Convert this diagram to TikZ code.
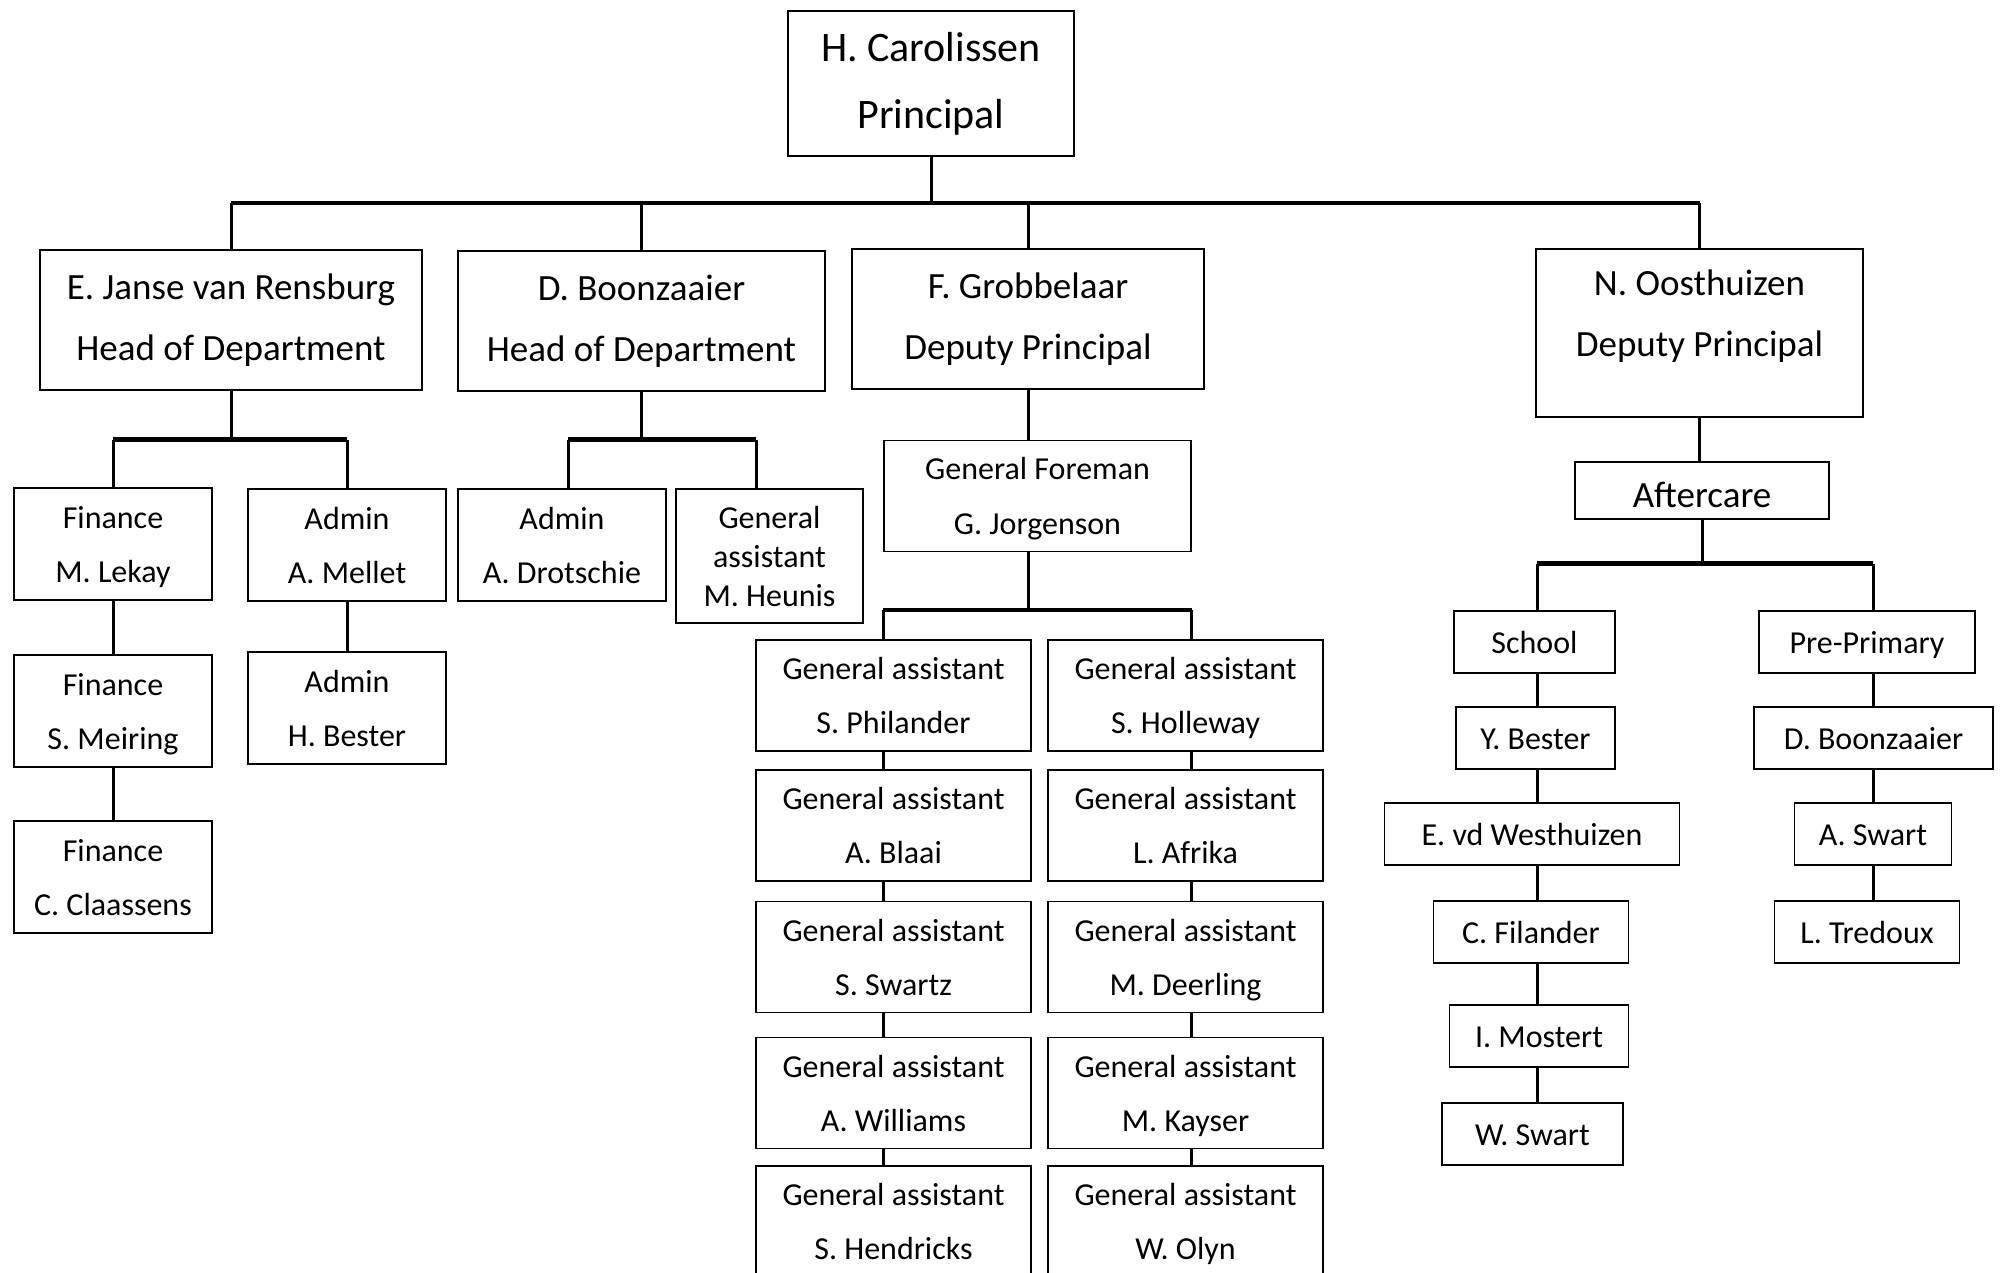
\documentclass[tikz,border=0pt]{standalone}
\usepackage{fontspec}
\setmainfont{Carlito}
\tikzset{box/.style = {draw, line width = 1.6pt, inner sep = 0, align = center}}
\tikzset{link/.style = {line width = 3pt}}
\tikzset{rail/.style = {line width = 4.5pt}}
\tikzset{toptext/.style = {font = \fontsize{42}{67}\selectfont}}
\tikzset{midtext/.style = {font = \fontsize{37}{61}\selectfont}}
\tikzset{lowtext/.style = {font = \fontsize{32}{54}\selectfont, text depth = 0pt}}
\tikzset{cell/.style = {box, lowtext, minimum width = 198pt, minimum height = 112pt}}
\tikzset{gabox/.style = {box, lowtext, minimum width = 275pt, minimum height = 111pt}}
\tikzset{tag/.style = {box, lowtext, text height = 23pt, minimum height = 62pt}}

\begin{document}
\begin{tikzpicture}[x = 1pt, y = -1pt]
  \useasboundingbox (0, 0) rectangle (2002, 1273);

  % principal and the four below
  \node [box, toptext, minimum width = 286pt, minimum height = 145pt] (principal) at (931, 83.5) {H. Carolissen\\Principal};
  \node [box, midtext, minimum width = 382pt, minimum height = 140pt] (rensburg) at (231, 320) {E. Janse van Rensburg\\Head of Department};
  \node [box, midtext, minimum width = 367pt, minimum height = 140pt] (boonzaaier) at (641.5, 321) {D. Boonzaaier\\Head of Department};
  \node [box, midtext, minimum width = 352pt, minimum height = 140pt] (grobbelaar) at (1028, 319) {F. Grobbelaar\\Deputy Principal};
  \node [box, midtext, minimum width = 327pt, minimum height = 168pt, text depth = 40pt] (oosthuizen) at (1699.5, 333) {N. Oosthuizen\\Deputy Principal};

  \coordinate (bus0) at (0, 203);
  \draw [link] (principal.south) -- (principal.south |- bus0);
  \draw [rail] (rensburg.north |- bus0) -- (oosthuizen.north |- bus0);
  \foreach \n in {rensburg, boonzaaier, grobbelaar, oosthuizen} {
    \draw [link] (\n.north |- bus0) -- (\n.north);
  }

  % finance and admin
  \node [cell] (fin1) at (113, 544) {Finance\\M. Lekay};
  \node [cell] (fin2) at (113, 711) {Finance\\S. Meiring};
  \node [cell] (fin3) at (113, 877) {Finance\\C. Claassens};
  \node [cell] (adm1) at (347, 545) {Admin\\A. Mellet};
  \node [cell] (adm2) at (347, 708) {Admin\\H. Bester};
  \node [cell, minimum width = 208pt] (drotschie) at (562, 545) {Admin\\A. Drotschie};
  \node [box, lowtext, font = \fontsize{32}{39}\selectfont, minimum width = 187pt, minimum height = 134pt] (heunis) at (769.5, 556) {General\\assistant\\M. Heunis};

  \coordinate (bus1) at (0, 439.5);
  \draw [link] (rensburg.south) -- (rensburg.south |- bus1);
  \draw [rail] (fin1.north |- bus1) -- (adm1.north |- bus1);
  \draw [link] (fin1.north |- bus1) -- (fin1.north);
  \draw [link] (adm1.north |- bus1) -- (adm1.north);
  \draw [link] (fin1) -- (fin2);
  \draw [link] (fin2) -- (fin3);
  \draw [link] (adm1) -- (adm2);

  \coordinate (dbL) at (568, 439.5);
  \coordinate (dbR) at (756, 439.5);
  \draw [link] (boonzaaier.south) -- (boonzaaier.south |- bus1);
  \draw [rail] (dbL) -- (dbR);
  \draw [link] (dbL) -- (dbL |- drotschie.north);
  \draw [link] (dbR) -- (dbR |- heunis.north);

  % foreman and general assistants
  \node [box, lowtext, font = \fontsize{32}{55}\selectfont, minimum width = 307pt, minimum height = 111pt] (foreman) at (1037.5, 496) {General Foreman\\G. Jorgenson};
  \draw [link] (grobbelaar.south) -- (grobbelaar.south |- foreman.north);

  \foreach \y/\a/\b [count = \i] in {695.5/S. Philander/S. Holleway, 825.5/A. Blaai/L. Afrika,
      957/S. Swartz/M. Deerling, 1093/A. Williams/M. Kayser, 1221.5/S. Hendricks/W. Olyn} {
    \node [gabox] (ga\i) at (893.5, \y) {General assistant\\\a};
    \node [gabox] (gb\i) at (1185.5, \y) {General assistant\\\b};
  }

  \coordinate (bus2) at (0, 610);
  \draw [link] (foreman.south -| grobbelaar.south) -- (bus2 -| grobbelaar.south);
  \draw [rail] (foreman.west |- bus2) -- (foreman.east |- bus2);
  \draw [link] (foreman.west |- bus2) -- (ga1.north -| foreman.west);
  \draw [link] (foreman.east |- bus2) -- (gb1.north -| foreman.east);
  \foreach \i/\j in {1/2, 2/3, 3/4, 4/5} {
    \draw [link] (ga\i.south -| foreman.west) -- (ga\j.north -| foreman.west);
    \draw [link] (gb\i.south -| foreman.east) -- (gb\j.north -| foreman.east);
  }

  % aftercare
  \node [box, midtext, text height = 33pt, text depth = 0pt, minimum width = 254pt, minimum height = 57pt] (aftercare) at (1702, 490.5) {Aftercare};
  \draw [link] (oosthuizen.south) -- (oosthuizen.south |- aftercare.north);

  \node [tag, minimum width = 161pt] (school) at (1534.5, 642) {School};
  \node [tag, minimum width = 159pt] (ybester) at (1535.5, 738) {Y. Bester};
  \node [tag, minimum width = 295pt] (westhuizen) at (1532, 834) {E. vd Westhuizen};
  \node [tag, minimum width = 195pt] (filander) at (1531, 932) {C. Filander};
  \node [tag, minimum width = 179pt] (mostert) at (1539, 1036) {I. Mostert};
  \node [tag, minimum width = 181pt] (wswart) at (1532.5, 1134) {W. Swart};

  \node [tag, minimum width = 216pt] (preprimary) at (1867, 642) {Pre-Primary};
  \node [tag, minimum width = 239pt] (dboonzaaier) at (1873.5, 738) {D. Boonzaaier};
  \node [tag, minimum width = 157pt] (aswart) at (1873, 834) {A. Swart};
  \node [tag, minimum width = 185pt] (tredoux) at (1867, 932) {L. Tredoux};

  \coordinate (colS) at (1537, 563.5);
  \coordinate (colP) at (1873, 563.5);
  \draw [link] (aftercare.south) -- (aftercare.south |- colS);
  \draw [rail] (colS) -- (colP);
  \draw [link] (colS) -- (colS |- school.north);
  \draw [link] (colP) -- (colP |- preprimary.north);
  \foreach \a/\b in {school/ybester, ybester/westhuizen, westhuizen/filander, filander/mostert, mostert/wswart} {
    \draw [link] (\a.south -| colS) -- (\b.north -| colS);
  }
  \foreach \a/\b in {preprimary/dboonzaaier, dboonzaaier/aswart, aswart/tredoux} {
    \draw [link] (\a.south -| colP) -- (\b.north -| colP);
  }
\end{tikzpicture}
\end{document}
